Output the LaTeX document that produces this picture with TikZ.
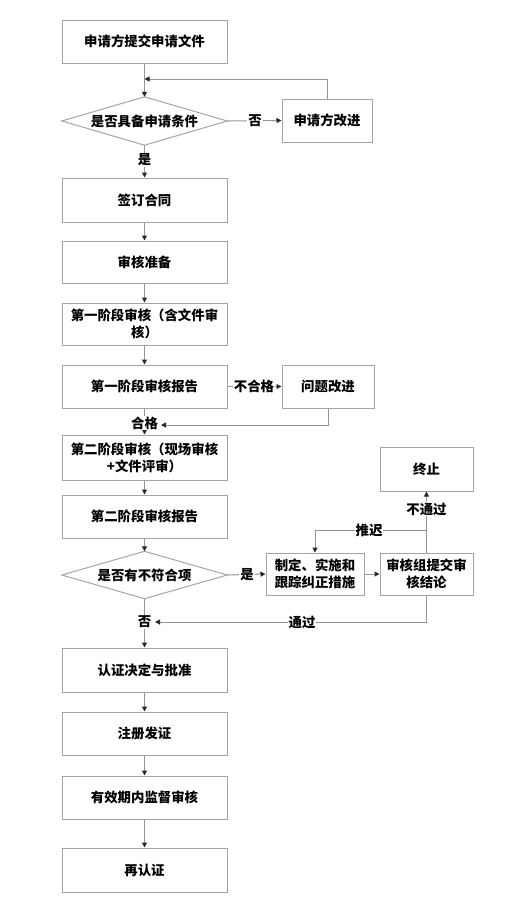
\documentclass[tikz,border=0pt]{standalone}
\usepackage{fontspec}
\setmainfont{Noto Sans CJK SC}
\usetikzlibrary{arrows.meta}
\definecolor{bordc}{RGB}{165,165,165}
\definecolor{linec}{RGB}{150,150,150}
\definecolor{tipc}{RGB}{40,40,40}
\tikzset{
  box/.style={draw=bordc, line width=1pt, minimum width=165pt, minimum height=43pt, inner sep=1pt, align=center, font=\fontsize{13.4pt}{17pt}\selectfont\bfseries},
  sbox/.style={box, minimum height=42pt},
  dia/.style={minimum width=165pt, minimum height=48pt, inner sep=0pt, font=\fontsize{13.4pt}{17pt}\selectfont\bfseries},
  diaedge/.style={draw=bordc, line width=1pt},
  arr/.style={draw=linec, line width=1pt, -{Triangle[length=5pt,width=5pt,color=tipc]}},
  lbl/.style={fill=white, inner sep=1pt, font=\fontsize{13.4pt}{17pt}\selectfont\bfseries}
}
\begin{document}
\begin{tikzpicture}[x=1pt,y=-1pt]
\useasboundingbox (0,0) rectangle (507,919);
% main column
\node[box] (b1) at (144.5,41.5) {申请方提交申请文件};
\node[dia] (d1) at (144.5,121) {是否具备申请条件};
\draw[diaedge] (d1.west) -- (d1.north) -- (d1.east) -- (d1.south) -- cycle;
\node[box, minimum width=90pt] (gai) at (327,120.5) {申请方改进};
\node[box, minimum height=44pt] (b2) at (144.5,200) {签订合同};
\node[box, minimum height=42pt] (b3) at (144.5,262) {审核准备};
\node[box, minimum height=42pt] (b4) at (144.5,324) {第一阶段审核（含文件审\\核）};
\node[box] (b5) at (144.5,386.5) {第一阶段审核报告};
\node[box, minimum width=92pt] (wt) at (328,386.5) {问题改进};
\node[box, minimum height=45pt] (b6) at (144.5,457.5) {第二阶段审核（现场审核\\+文件评审）};
\node[box] (b7) at (144.5,516.5) {第二阶段审核报告};
\node[dia, minimum height=47pt] (d2) at (144.5,575) {是否有不符合项};
\draw[diaedge] (d2.west) -- (d2.north) -- (d2.east) -- (d2.south) -- cycle;
\node[sbox, minimum width=98pt] (zd) at (315,574) {制定、实施和\\跟踪纠正措施};
\node[sbox, minimum width=93pt] (sh) at (426.5,574) {审核组提交审\\核结论};
\node[box, minimum width=93pt, minimum height=44pt] (zz) at (426.5,469) {终止};
\node[box, minimum height=44pt] (b8) at (144.5,670) {认证决定与批准};
\node[box] (b9) at (144.5,733.5) {注册发证};
\node[box] (b10) at (144.5,797.5) {有效期内监督审核};
\node[box, minimum height=44pt] (b11) at (144.5,870) {再认证};
% connectors
\coordinate (fb1) at (144.5,79);
\draw[arr] (b1.south) -- (d1.north);
\draw[arr] (gai.north) |- (fb1);
\draw[arr] (d1.east) -- (gai.west);
\node[lbl] (lno1) at (255,121) {否};
\draw[arr] (d1.south) -- (b2.north);
\node[lbl] (lyes1) at (144.5,160) {是};
\draw[arr] (b2.south) -- (b3.north);
\draw[arr] (b3.south) -- (b4.north);
\draw[arr] (b4.south) -- (b5.north);
\draw[arr] (b5.east) -- (wt.west);
\node[lbl] (lbhg) at (254,386.5) {不合格};
\draw[arr] (b5.south) -- (b6.north);
\coordinate (fb2) at (161,425);
\draw[arr] (wt.south) |- (fb2);
\node[lbl] (lhg) at (144.5,423) {合格};
\draw[arr] (b6.south) -- (b7.north);
\draw[arr] (b7.south) -- (d2.north);
\draw[arr] (d2.east) -- (zd.west);
\node[lbl] (lyes2) at (247,575) {是};
\draw[arr] (zd.east) -- (sh.west);
\draw[arr] (sh.north) -- (zz.south);
\node[lbl] (lbtg) at (426.5,509) {不通过};
\coordinate (tp) at (426.5,530);
\draw[arr] (tp) -| (zd.north);
\node[lbl] (ltc) at (369,530) {推迟};
\coordinate (fb3) at (155,622);
\draw[arr] (sh.south) |- (fb3);
\node[lbl] (ltg) at (302,622) {通过};
\draw[arr] (d2.south) -- (b8.north);
\node[lbl] (lno2) at (144.5,622) {否};
\draw[arr] (b8.south) -- (b9.north);
\draw[arr] (b9.south) -- (b10.north);
\draw[arr] (b10.south) -- (b11.north);
\end{tikzpicture}
\end{document}
